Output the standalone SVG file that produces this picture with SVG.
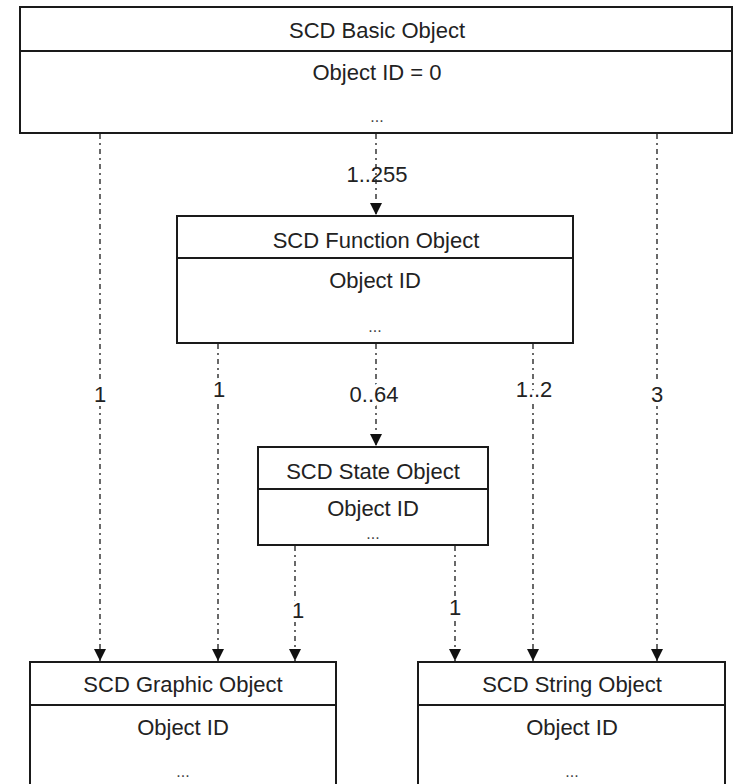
<svg xmlns="http://www.w3.org/2000/svg" width="733" height="784" viewBox="0 0 733 784">
  <style>
    .box { fill: #ffffff; stroke: #1a1a1a; stroke-width: 2; }
    .sep { stroke: #1a1a1a; stroke-width: 2; }
    .txt { font-family: "Liberation Sans", Arial, sans-serif; font-size: 22px; fill: #222222; text-anchor: middle; }
    .dots { font-family: "Liberation Sans", Arial, sans-serif; font-size: 16px; fill: #444444; text-anchor: middle; }
    .link { stroke: #444444; stroke-width: 1.6; stroke-dasharray: 5 4 2 4; fill: none; }
    .lbl { font-family: "Liberation Sans", Arial, sans-serif; font-size: 22px; fill: #222222; text-anchor: middle; stroke: #ffffff; stroke-width: 8; paint-order: stroke; }
    .lbl-plain { font-family: "Liberation Sans", Arial, sans-serif; font-size: 22px; fill: #222222; text-anchor: middle; }
  </style>
  <defs>
    <marker id="arrow" markerUnits="userSpaceOnUse" markerWidth="12" markerHeight="12" refX="12" refY="6" orient="auto">
      <path d="M0,0 L12,6 L0,12 Z" fill="#111111"/>
    </marker>
  </defs>

  <rect width="733" height="784" fill="#ffffff"/>

  <!-- connectors -->
  <g id="connectors">
    <line class="link" x1="100" y1="134" x2="100" y2="661" marker-end="url(#arrow)"/>
    <line class="link" x1="376" y1="134" x2="376" y2="215" marker-end="url(#arrow)"/>
    <line class="link" x1="218" y1="344" x2="218" y2="661" marker-end="url(#arrow)"/>
    <line class="link" x1="376" y1="344" x2="376" y2="446" marker-end="url(#arrow)"/>
    <line class="link" x1="533" y1="344" x2="533" y2="661" marker-end="url(#arrow)"/>
    <line class="link" x1="657" y1="134" x2="657" y2="661" marker-end="url(#arrow)"/>
    <line class="link" x1="295" y1="546" x2="295" y2="661" marker-end="url(#arrow)"/>
    <line class="link" x1="455" y1="546" x2="455" y2="661" marker-end="url(#arrow)"/>

    <text class="lbl-plain" x="377" y="182">1..255</text>
    <text class="lbl" x="100" y="402">1</text>
    <text class="lbl" x="219" y="397">1</text>
    <text class="lbl" x="374" y="402">0..64</text>
    <text class="lbl" x="534" y="397">1..2</text>
    <text class="lbl" x="657" y="402">3</text>
    <text class="lbl" x="298" y="618">1</text>
    <text class="lbl" x="455" y="615">1</text>
  </g>

  <!-- SCD Basic Object -->
  <g id="basic-object">
    <rect class="box" x="20" y="7" width="712" height="126"/>
    <line class="sep" x1="20" y1="51" x2="732" y2="51"/>
    <text class="txt" x="377" y="38">SCD Basic Object</text>
    <text class="txt" x="377" y="80">Object ID = 0</text>
    <text class="dots" x="377" y="122">...</text>
  </g>

  <!-- SCD Function Object -->
  <g id="function-object">
    <rect class="box" x="177" y="216" width="396" height="127"/>
    <line class="sep" x1="177" y1="258" x2="573" y2="258"/>
    <text class="txt" x="376" y="248">SCD Function Object</text>
    <text class="txt" x="375" y="288">Object ID</text>
    <text class="dots" x="375" y="332">...</text>
  </g>

  <!-- SCD State Object -->
  <g id="state-object">
    <rect class="box" x="258" y="447" width="230" height="98"/>
    <line class="sep" x1="258" y1="489" x2="488" y2="489"/>
    <text class="txt" x="373" y="479">SCD State Object</text>
    <text class="txt" x="373" y="516">Object ID</text>
    <text class="dots" x="373" y="539">...</text>
  </g>

  <!-- SCD Graphic Object -->
  <g id="graphic-object">
    <rect class="box" x="30" y="662" width="306" height="140"/>
    <line class="sep" x1="30" y1="705" x2="336" y2="705"/>
    <text class="txt" x="183" y="692">SCD Graphic Object</text>
    <text class="txt" x="183" y="735">Object ID</text>
    <text class="dots" x="183" y="777">...</text>
  </g>

  <!-- SCD String Object -->
  <g id="string-object">
    <rect class="box" x="418" y="662" width="307" height="140"/>
    <line class="sep" x1="418" y1="705" x2="725" y2="705"/>
    <text class="txt" x="572" y="692">SCD String Object</text>
    <text class="txt" x="572" y="735">Object ID</text>
    <text class="dots" x="572" y="777">...</text>
  </g>
</svg>
